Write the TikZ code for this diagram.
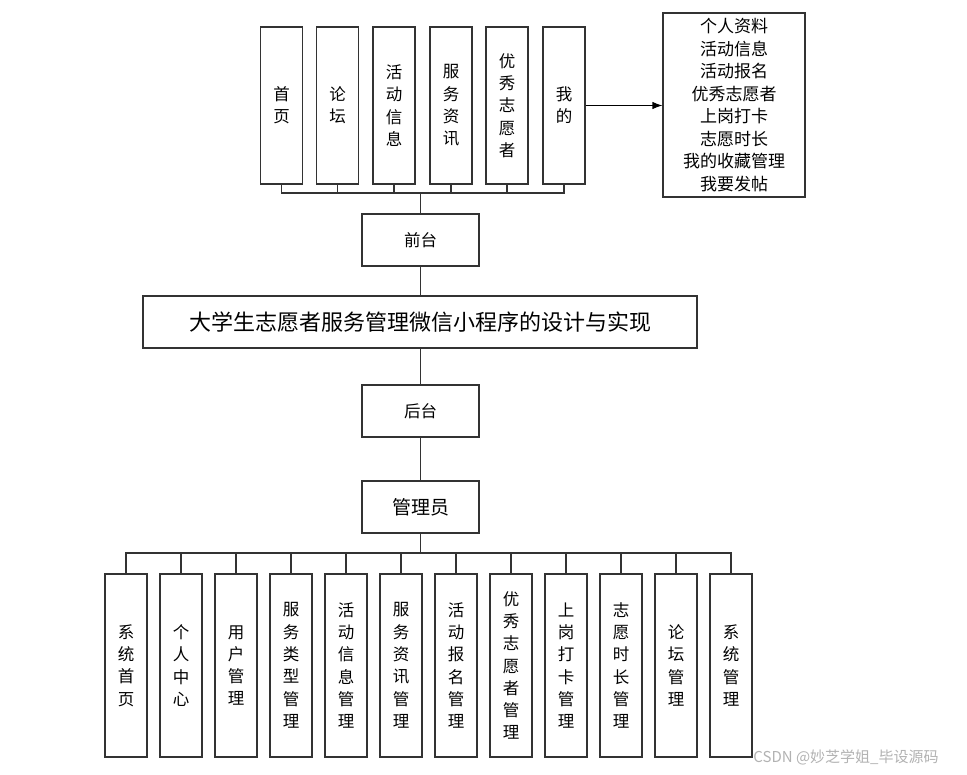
\documentclass[tikz,border=0pt]{standalone}
\usepackage{fontspec}
\usetikzlibrary{positioning,arrows.meta}
\newfontfamily\cjk{Noto Sans CJK SC}

\begin{document}
\begin{tikzpicture}[x=1pt,y=-1pt,font=\cjk\fontsize{16.5}{22.3}\selectfont,
      col/.style={draw=black!80,line width=1.1pt,minimum width=42pt,minimum height=157pt,inner sep=0pt,align=center},
      lowcol/.style={col,minimum height=183pt},
      hub/.style={draw=black!80,line width=1.1pt,minimum width=117pt,minimum height=52pt,inner sep=0pt},
      ln/.style={black!80,line width=1.1pt},
      arr/.style={-{Latex[length=3.5mm,width=2.6mm]},black,line width=1.1pt}]
    \useasboundingbox (0,0) rectangle (967,775);
    % front end
    \node[col] (t1) at (281.5,105.5) {首\\页};
    \node[col] (t2) at (337.5,105.5) {论\\坛};
    \node[col] (t3) at (394,105.5) {活\\动\\信\\息};
    \node[col] (t4) at (451,105.5) {服\\务\\资\\讯};
    \node[col] (t5) at (507,105.5) {优\\秀\\志\\愿\\者};
    \node[col] (t6) at (564,105.5) {我\\的};
    \node[draw=black!80,line width=1.1pt,minimum width=142pt,minimum height=184pt,inner sep=0pt,align=center,
          font=\cjk\fontsize{17}{22.5}\selectfont] (mine) at (734,105)
      {个人资料\\活动信息\\活动报名\\优秀志愿者\\上岗打卡\\志愿时长\\我的收藏管理\\我要发帖};
    \node[hub] (qt) at (420.5,240) {前台};
    \node[draw=black!80,line width=1.1pt,minimum width=554pt,minimum height=52pt,inner sep=0pt,
          font=\cjk\fontsize{22}{24}\selectfont] (sys) at (420,322) {大学生志愿者服务管理微信小程序的设计与实现};
    % back end
    \node[hub] (ht) at (420.5,411) {后台};
    \node[hub,font=\cjk\fontsize{19}{22}\selectfont] (adm) at (420.5,507) {管理员};
    \node[lowcol] (b1) at (126,665.5) {系\\统\\首\\页};
    \node[lowcol] (b2) at (181,665.5) {个\\人\\中\\心};
    \node[lowcol] (b3) at (236,665.5) {用\\户\\管\\理};
    \node[lowcol] (b4) at (291,665.5) {服\\务\\类\\型\\管\\理};
    \node[lowcol] (b5) at (346,665.5) {活\\动\\信\\息\\管\\理};
    \node[lowcol] (b6) at (401,665.5) {服\\务\\资\\讯\\管\\理};
    \node[lowcol] (b7) at (456,665.5) {活\\动\\报\\名\\管\\理};
    \node[lowcol] (b8) at (511,665.5) {优\\秀\\志\\愿\\者\\管\\理};
    \node[lowcol] (b9) at (566,665.5) {上\\岗\\打\\卡\\管\\理};
    \node[lowcol] (b10) at (621,665.5) {志\\愿\\时\\长\\管\\理};
    \node[lowcol] (b11) at (676,665.5) {论\\坛\\管\\理};
    \node[lowcol] (b12) at (731,665.5) {系\\统\\管\\理};
    \node[text=black!30,font=\cjk\fontsize{15}{17}\selectfont] (wm) at (846,757) {CSDN @妙芝学姐\_毕设源码};
    % connectors
    \coordinate (upbus) at (420.5,193);
    \coordinate (lowbus) at (420.5,553);
    \draw[ln] (t1.south) |- (upbus); \draw[ln] (t2.south) |- (upbus); \draw[ln] (t3.south) |- (upbus);
    \draw[ln] (t4.south) |- (upbus); \draw[ln] (t5.south) |- (upbus); \draw[ln] (t6.south) |- (upbus);
    \draw[ln] (upbus) -- (qt.north); \draw[ln] (qt.south) -- (sys.north -| qt.south);
    \draw[ln] (sys.south -| ht.north) -- (ht.north); \draw[ln] (ht.south) -- (adm.north);
    \draw[ln] (adm.south) -- (lowbus);
    \draw[ln] (b1.north) |- (lowbus); \draw[ln] (b2.north) |- (lowbus); \draw[ln] (b3.north) |- (lowbus);
    \draw[ln] (b4.north) |- (lowbus); \draw[ln] (b5.north) |- (lowbus); \draw[ln] (b6.north) |- (lowbus);
    \draw[ln] (b7.north) |- (lowbus); \draw[ln] (b8.north) |- (lowbus); \draw[ln] (b9.north) |- (lowbus);
    \draw[ln] (b10.north) |- (lowbus); \draw[ln] (b11.north) |- (lowbus); \draw[ln] (b12.north) |- (lowbus);
    \draw[arr] (t6.east) -- (t6.east -| mine.west);
  \end{tikzpicture}
\end{document}
